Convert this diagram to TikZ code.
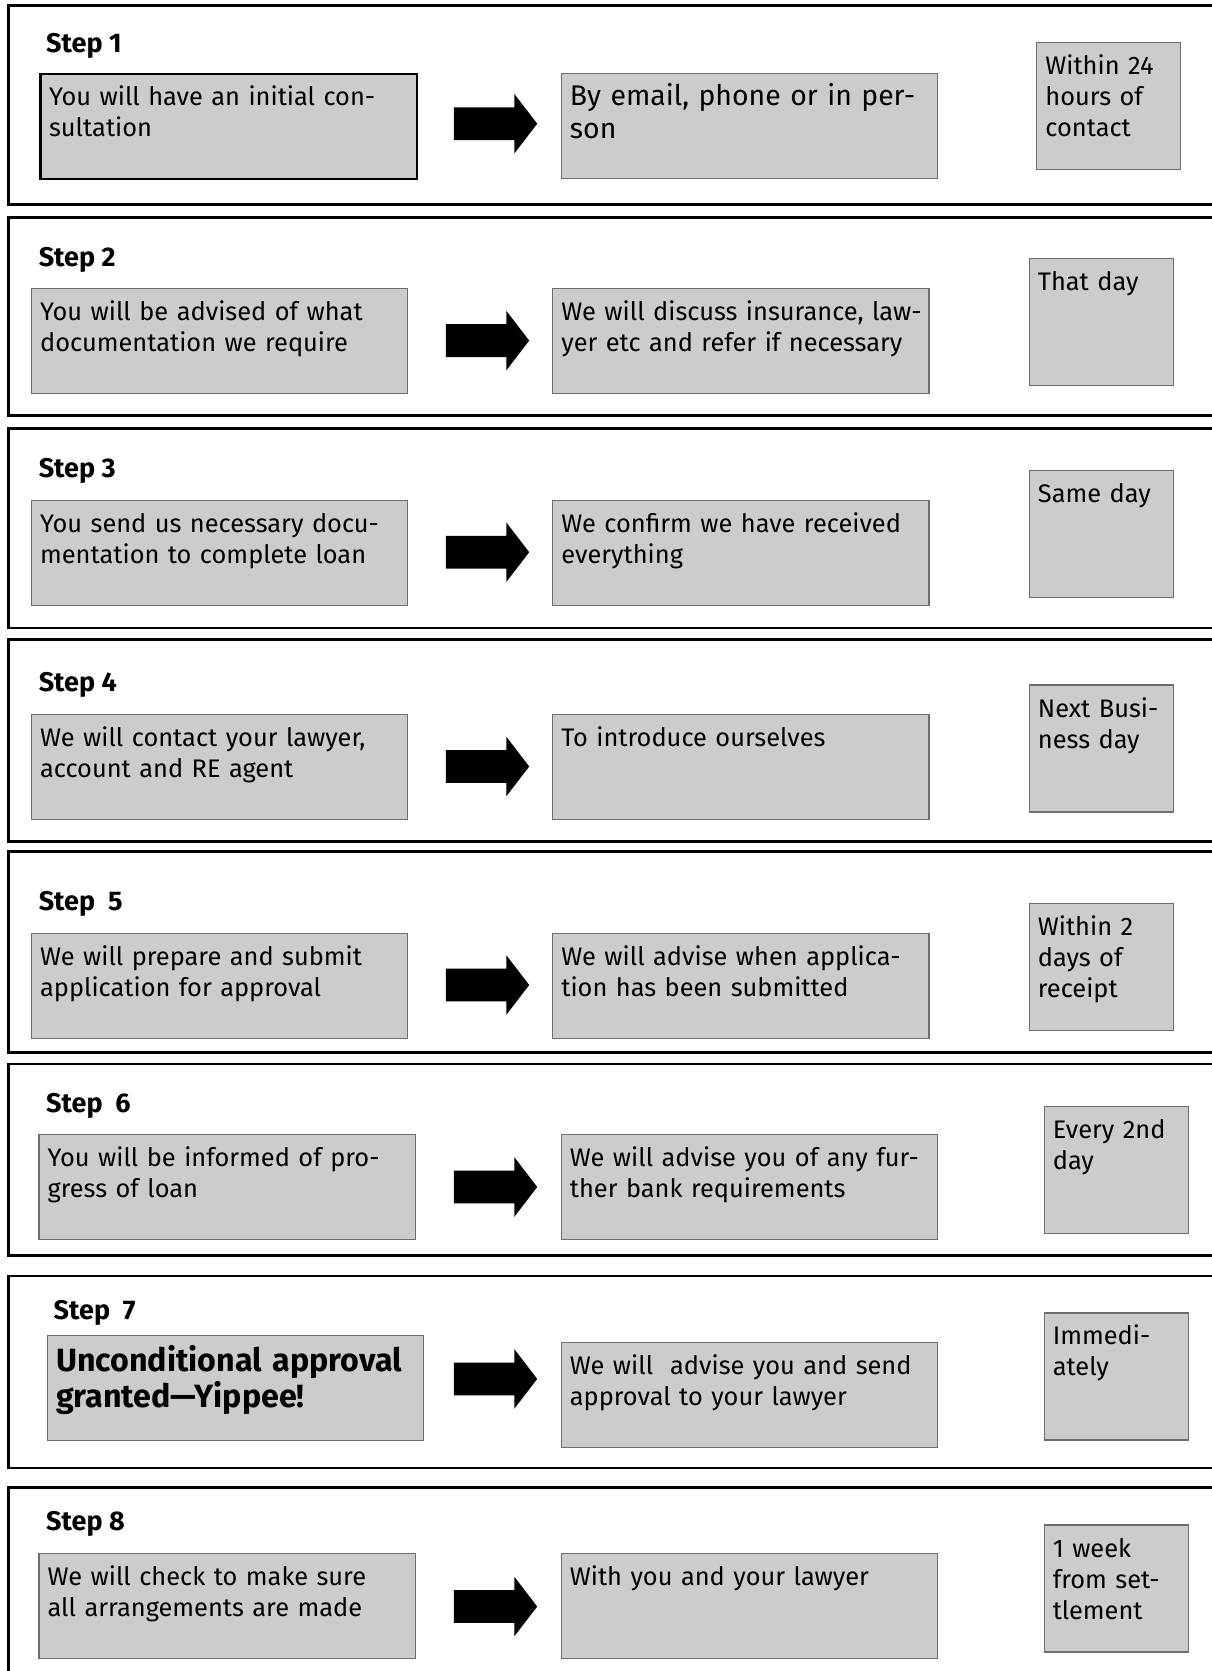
\documentclass[tikz,border=0pt]{standalone}
\usepackage{fontspec}
\setmainfont{Fira Sans}
\usetikzlibrary{shapes.arrows, positioning}
\definecolor{boxfill}{RGB}{204,204,204}
\definecolor{boxedge}{RGB}{110,110,110}

\tikzset{
  frame/.style={line width=1.4pt, draw=black},
  steplabel/.style={anchor=base west, inner sep=0pt, font=\bfseries\fontsize{13.5}{15}\selectfont},
  textbox/.style={anchor=north west, draw=boxedge, line width=0.6pt, fill=boxfill, align=left,
    inner xsep=4.3pt, inner ysep=4pt, text height=12pt, font=\fontsize{12.7}{15.5}\selectfont},
  actbox/.style={textbox, text width=179.5pt, text depth=32.5pt},
  timebox/.style={textbox, text width=63.4pt, text depth=43.5pt},
  blockarrow/.style={single arrow, fill=black, draw=none, inner xsep=0pt, inner ysep=8pt,
    minimum height=41.6pt, single arrow head extend=6.75pt, single arrow tip angle=105}
}

\begin{document}
\begin{tikzpicture}[x=0.5pt, y=-0.5pt]
  \fill[white] (0,0) rectangle (1211,1671);
  \useasboundingbox (0,0) rectangle (1211,1671);

  % step 1
  \draw[frame] (8.5,5.3) rectangle (1240,204.7);
  \node[steplabel] (lab1) at (45.8,52) {Step 1};
  \node[actbox, draw=black, line width=1.1pt] (act1) at (39.4,72.5) {You will have an initial con-\\sultation};
  \node[blockarrow] (arr1) at (489.3,123.7) {};
  \node[actbox, font=\fontsize{14.2}{16.8}\selectfont] (res1) at (560.7,72.5) {\mbox{By email, phone or in per-}\\son};
  \node[timebox] (tim1) at (1036.2,41.6) {Within 24\\hours of\\contact};

  % step 2
  \draw[frame] (8.5,217.5) rectangle (1240,415.7);
  \node[steplabel] (lab2) at (38.4,266.5) {Step 2};
  \node[actbox] (act2) at (30.9,287.8) {You will be advised of what\\documentation we require};
  \node[blockarrow] (arr2) at (481.3,340.6) {};
  \node[actbox] (res2) at (552.2,287.8) {\mbox{We will discuss insurance, law-}\\yer etc and refer if necessary};
  \node[timebox] (tim2) at (1028.7,258) {That day};

  % step 3
  \draw[frame] (8.5,428.5) rectangle (1240,627.9);
  \node[steplabel] (lab3) at (38.4,477.5) {Step 3};
  \node[actbox] (act3) at (30.9,500) {You send us necessary docu-\\mentation to complete loan};
  \node[blockarrow] (arr3) at (481.3,552.2) {};
  \node[actbox] (res3) at (552.2,500) {We confirm we have received\\everything};
  \node[timebox] (tim3) at (1028.7,470.1) {Same day};

  % step 4
  \draw[frame] (8.5,639.6) rectangle (1240,841.1);
  \node[steplabel] (lab4) at (38.4,691.8) {Step 4};
  \node[actbox] (act4) at (30.9,714.2) {We will contact your lawyer,\\account and RE agent};
  \node[blockarrow] (arr4) at (481.3,766.5) {};
  \node[actbox] (res4) at (552.2,714.2) {To introduce ourselves};
  \node[timebox] (tim4) at (1028.7,684.4) {Next Busi-\\ness day};

  % step 5
  \draw[frame] (8.5,851.7) rectangle (1240,1052.1);
  \node[steplabel] (lab5) at (38.4,910.4) {Step\ \ 5};
  \node[actbox] (act5) at (30.9,932.8) {We will prepare and submit\\application for approval};
  \node[blockarrow] (arr5) at (481.3,985) {};
  \node[actbox] (res5) at (552.2,932.8) {\mbox{We will advise when applica-}\\tion has been submitted};
  \node[timebox] (tim5) at (1028.7,902.9) {Within 2\\days of\\receipt};

  % step 6
  \draw[frame] (8.5,1063.9) rectangle (1240,1255.7);
  \node[steplabel] (lab6) at (45.8,1112.9) {Step\ \ 6};
  \node[actbox] (act6) at (38.4,1134.2) {You will be informed of pro-\\gress of loan};
  \node[blockarrow] (arr6) at (489.3,1187) {};
  \node[actbox] (res6) at (560.7,1134.2) {\mbox{We will advise you of any fur-}\\ther bank requirements};
  \node[timebox] (tim6) at (1043.6,1105.5) {Every 2nd\\day};

  % step 7
  \draw[frame] (8.5,1275.9) rectangle (1240,1467.9);
  \node[steplabel] (lab7) at (53.3,1319.7) {Step\ \ 7};
  \node[actbox, text height=14pt, text depth=30.5pt, font=\bfseries\fontsize{16.1}{18.2}\selectfont] (act7) at (46.9,1334.7) {\mbox{Unconditional approval}\\granted---Yippee!};
  \node[blockarrow] (arr7) at (489.3,1378.9) {};
  \node[actbox] (res7) at (560.7,1342.1) {We will\ \ advise you and send\\approval to your lawyer};
  \node[timebox] (tim7) at (1043.6,1312.3) {Immedi-\\ately};

  % step 8
  \draw[frame] (8.5,1487.1) rectangle (1240,1700);
  \node[steplabel] (lab8) at (45.8,1530.8) {Step 8};
  \node[actbox] (act8) at (38.4,1553.2) {We will check to make sure\\all arrangements are made};
  \node[blockarrow] (arr8) at (489.3,1606.5) {};
  \node[actbox] (res8) at (560.7,1553.2) {With you and your lawyer};
  \node[timebox] (tim8) at (1043.6,1524.4) {1 week\\from set-\\tlement};
\end{tikzpicture}
\end{document}
